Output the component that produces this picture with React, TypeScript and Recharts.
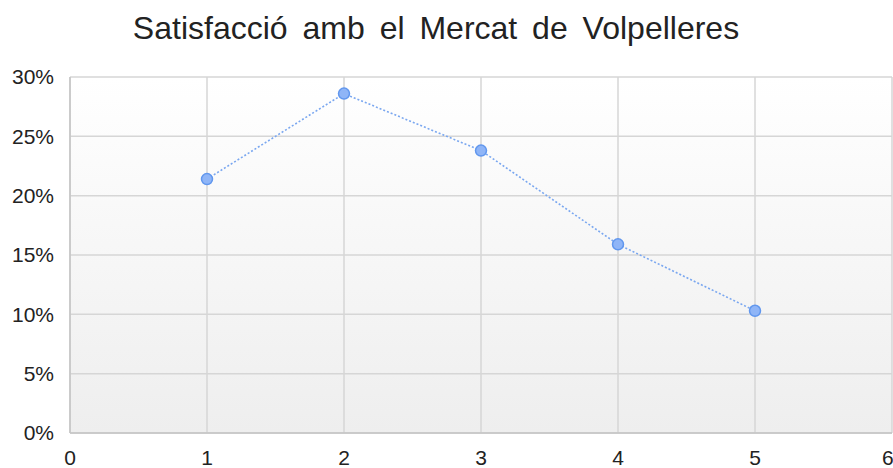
import { LineChart, Line, XAxis, YAxis, CartesianGrid } from "recharts";

const categories = [1, 2, 3, 4, 5];
const satisfaction = [21.4, 28.6, 23.8, 15.9, 10.3];
const xTicks = [0, 1, 2, 3, 4, 5, 6];
const yTicks = [0, 5, 10, 15, 20, 25, 30];

const data = categories.map((c, i) => ({ x: c, value: satisfaction[i] }));

export default function App() {
  const font = "'Liberation Sans', Arial, sans-serif";
  return (
    <div style={{ position: "fixed", left: 0, top: 0, width: 893, height: 468, background: "#fff" }}>
      <div
        style={{
          position: "absolute",
          top: 10,
          left: 0,
          width: 872,
          textAlign: "center",
          fontFamily: font,
          fontSize: 32,
          color: "#222",
          wordSpacing: 6
        }}>
        Satisfacció amb el Mercat de Volpelleres
      </div>
      <LineChart width={893} height={468} data={data} margin={{ top: 77, right: 1, bottom: 5, left: 0 }}>
        <defs>
          <linearGradient id="plotBg" x1="0" y1="0" x2="0" y2="1">
            <stop offset="0%" stopColor="#ffffff" />
            <stop offset="100%" stopColor="#eeeeee" />
          </linearGradient>
        </defs>
        <CartesianGrid stroke="#d6d6d6" strokeWidth={1.5} fill="url(#plotBg)" fillOpacity={1} />
        <XAxis
          dataKey="x"
          type="number"
          domain={[0, 6]}
          ticks={xTicks}
          height={30}
          stroke="#c4c4c4"
          strokeWidth={1.5}
          tickLine={false}
          tickSize={0}
          tickMargin={17}
          tick={{ fill: "#222", fontSize: 21, fontFamily: font }}
        />
        <YAxis
          type="number"
          domain={[0, 30]}
          ticks={yTicks}
          width={70}
          stroke="#c4c4c4"
          strokeWidth={1.5}
          tickLine={false}
          tickSize={0}
          tickMargin={16}
          tickFormatter={(v) => `${v}%`}
          tick={{ fill: "#222", fontSize: 21, fontFamily: font }}
        />
        <Line
          dataKey="value"
          stroke="#7aa7f0"
          strokeWidth={1.6}
          strokeDasharray="2 2"
          dot={{ r: 5.5, fill: "#8fb5f7", stroke: "#6197ee", strokeWidth: 1.5, strokeDasharray: "0" }}
          isAnimationActive={false}
        />
      </LineChart>
    </div>
  );
}
